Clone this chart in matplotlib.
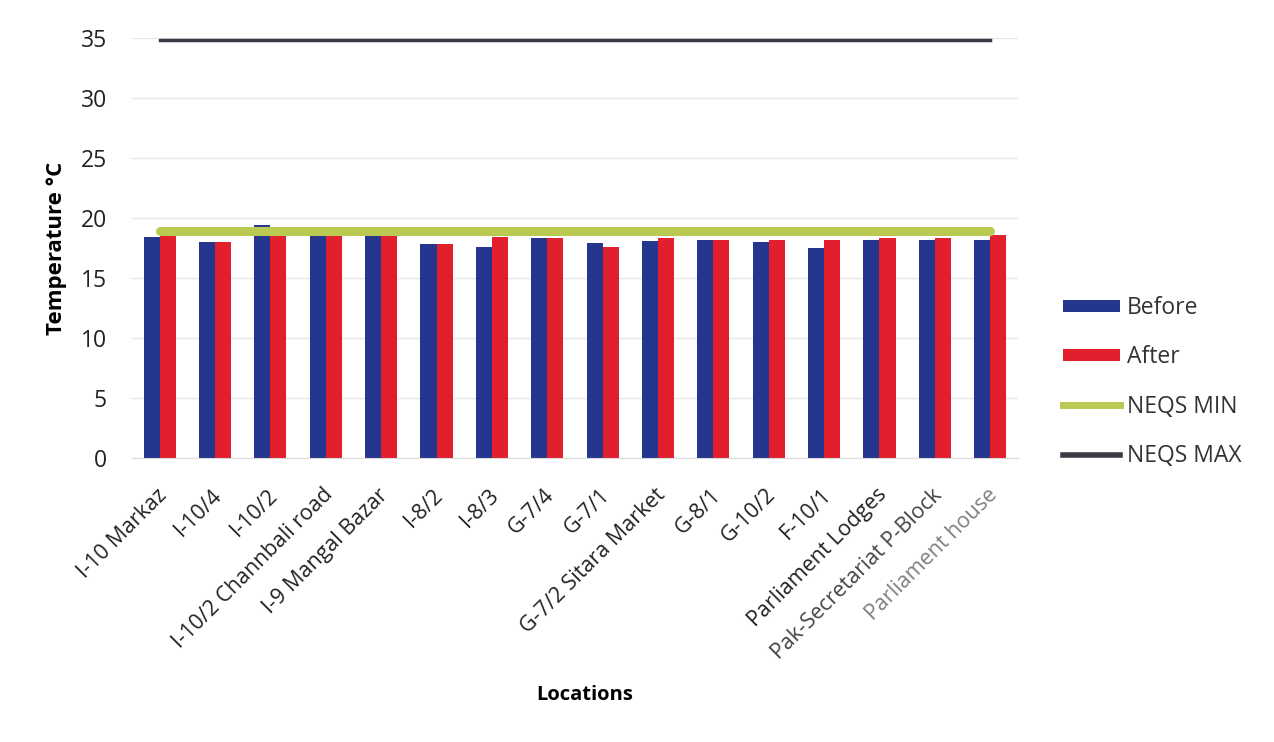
import matplotlib.pyplot as plt
import numpy as np
from matplotlib.patches import Patch
from matplotlib.lines import Line2D
from matplotlib.transforms import ScaledTranslation

plt.rcParams['font.family'] = ['Open Sans', 'DejaVu Sans']

# 測定地点と温度データ (°C)
locations = ['I-10 Markaz', 'I-10/4', 'I-10/2', 'I-10/2 Channbali road', 'I-9 Mangal Bazar',
             'I-8/2', 'I-8/3', 'G-7/4', 'G-7/1', 'G-7/2 Sitara Market', 'G-8/1', 'G-10/2',
             'F-10/1', 'Parliament Lodges', 'Pak-Secretariat P-Block', 'Parliament house']
before = [18.4, 18.0, 19.4, 18.6, 18.5, 17.8, 17.6, 18.3, 17.9, 18.1, 18.2, 18.0, 17.5, 18.2, 18.2, 18.2]
after = [18.7, 18.0, 18.7, 18.6, 18.5, 17.8, 18.4, 18.3, 17.6, 18.3, 18.2, 18.2, 18.2, 18.3, 18.3, 18.6]
neqs_min = [18.9] * 16
neqs_max = [34.8] * 16
yticks = [0, 5, 10, 15, 20, 25, 30, 35]

BLUE = '#25368f'
RED = '#e11f2d'
GREEN = '#bac952'
GREY = '#3a3a46'

fig = plt.figure(figsize=(12.74, 7.42), dpi=100)
ax = fig.add_axes([0.1036, 0.3827, 0.6954, 0.5661])

x = np.arange(len(locations))
w = 0.29
ax.bar(x - w / 2, before, w, color=BLUE, zorder=2)
ax.bar(x + w / 2, after, w, color=RED, zorder=2)
ax.plot(x, neqs_min, color=GREEN, linewidth=6.5, solid_capstyle='round', zorder=3)
ax.plot(x, neqs_max, color=GREY, linewidth=2.5, zorder=3)

ax.set_xlim(-0.5, len(locations) - 0.5)
ax.set_ylim(0, 35)
ax.set_yticks(yticks)
ax.tick_params(axis='both', length=0, colors='#222222')
ax.tick_params(axis='y', labelsize=16.5, pad=18)
ax.grid(axis='y', color='#e8e8e8', linewidth=1, zorder=0)
for side in ['top', 'right', 'left']:
    ax.spines[side].set_visible(False)
ax.spines['bottom'].set_color('#d9d9d9')

ax.set_xticks(x)
ax.set_xticklabels(locations, rotation=45, ha='right', va='center',
                   rotation_mode='anchor', fontsize=15.5)
offset = ScaledTranslation(0.04, -0.29, fig.dpi_scale_trans)
label_colors = ['#222222'] * 14 + ['#444444', '#808080']
for lbl, c in zip(ax.get_xticklabels(), label_colors):
    lbl.set_transform(lbl.get_transform() + offset)
    lbl.set_color(c)

ax.set_ylabel('Temperature °C', fontsize=16, fontweight='bold')
ax.yaxis.set_label_coords(-0.073, 0.5)
fig.text(585 / 1274, 1 - 695 / 742, 'Locations', fontsize=14.5, fontweight='bold',
         ha='center', va='center')

handles = [Patch(facecolor=BLUE), Patch(facecolor=RED),
           Line2D([], [], color=GREEN, linewidth=5),
           Line2D([], [], color=GREY, linewidth=4)]
ax.legend(handles, ['Before', 'After', 'NEQS MIN', 'NEQS MAX'],
          loc='center left', bbox_to_anchor=(1042 / 1274, 1 - 382 / 742),
          bbox_transform=fig.transFigure, frameon=False, fontsize=16.5,
          handlelength=2.5, handleheight=0.45, handletextpad=0.3, labelspacing=1.1,
          labelcolor='#333333')

fig.savefig('out.png', dpi=100, facecolor='white')
